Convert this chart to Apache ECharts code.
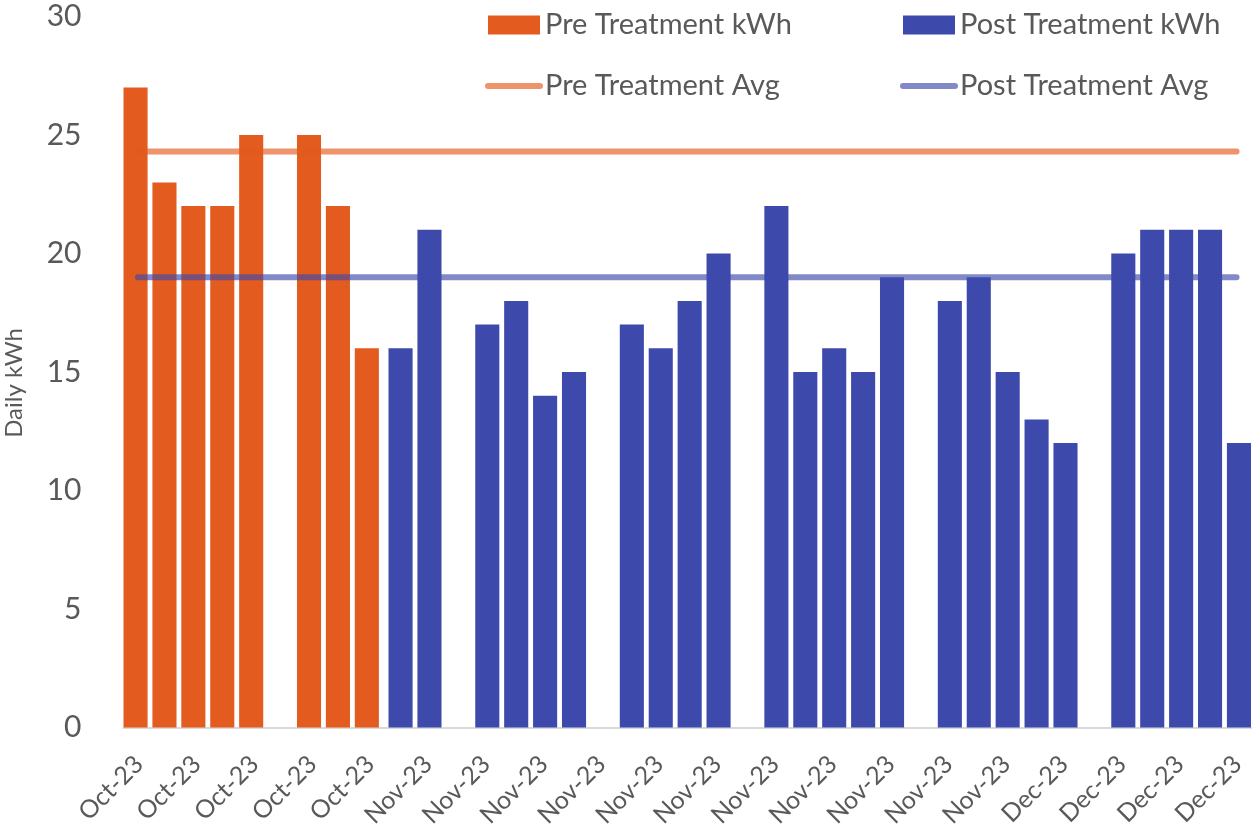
<!DOCTYPE html>
<html>
<head>
<meta charset="utf-8">
<script src="https://cdn.jsdelivr.net/npm/echarts@6/dist/echarts.min.js"></script>
<style>
  html, body { margin: 0; padding: 0; background: #fff; }
  #chart { width: 1255px; height: 836px; }
</style>
</head>
<body>
<div id="chart"></div>
<script>
// weekdays on the axis (weekends are not on the sheet)
const days = [
  "2023-10-18", "2023-10-19", "2023-10-20", "2023-10-23", "2023-10-24",
  "2023-10-25", "2023-10-26", "2023-10-27", "2023-10-30", "2023-10-31",
  "2023-11-01", "2023-11-02", "2023-11-03", "2023-11-06", "2023-11-07",
  "2023-11-08", "2023-11-09", "2023-11-10", "2023-11-13", "2023-11-14",
  "2023-11-15", "2023-11-16", "2023-11-17", "2023-11-20", "2023-11-21",
  "2023-11-22", "2023-11-23", "2023-11-24", "2023-11-27", "2023-11-28",
  "2023-11-29", "2023-11-30", "2023-12-01", "2023-12-04", "2023-12-05",
  "2023-12-06", "2023-12-07", "2023-12-08", "2023-12-11"
];

const preKwh = [
  27, 23, 22, 22, 25, null, 25, 22, 16, null,
  null, null, null, null, null, null, null, null, null, null,
  null, null, null, null, null, null, null, null, null, null,
  null, null, null, null, null, null, null, null, null
];

const postKwh = [
  null, null, null, null, null, null, null, null, null, 16,
  21, null, 17, 18, 14, 15, null, 17, 16, 18,
  20, null, 22, 15, 16, 15, 19, null, 18, 19,
  15, 13, 12, null, 20, 21, 21, 21, 12
];

const preAvg = 24.3;
const postAvg = 19.0;

const yTicks = [0, 5, 10, 15, 20, 25, 30];

const monthNames = ["Jan", "Feb", "Mar", "Apr", "May", "Jun", "Jul", "Aug", "Sep", "Oct", "Nov", "Dec"];

const fmtMonth = (d) => {
  const [y, m] = d.split("-");
  return monthNames[parseInt(m, 10) - 1] + "-" + y.slice(2);
};

const FONT = "Lato, 'Open Sans', sans-serif";
const TEXT = "#595959";
const ORANGE = "#E35B1F";
const BLUE = "#3E4AAB";
const ORANGE_AVG = "rgba(227,91,31,0.65)";
const BLUE_AVG = "rgba(62,74,171,0.65)";

const chart = echarts.init(document.getElementById("chart"), null, { renderer: "canvas" });

// shared legend look, one legend per column so the columns line up
const legendBase = {
  top: 10,
  padding: 0,
  orient: "vertical",
  itemWidth: 52,
  itemHeight: 19,
  itemGap: 31,
  textStyle: { fontFamily: FONT, fontSize: 29, lineHeight: 30, color: TEXT }
};

const option = {
  backgroundColor: "#fff",
  animation: false,
  textStyle: { fontFamily: FONT, color: TEXT },
  legend: [
    Object.assign({}, legendBase, {
      left: 485,
      data: [
        { name: "Pre Treatment kWh", icon: "rect" },
        { name: "Pre Treatment Avg", itemStyle: { opacity: 0 }, lineStyle: { width: 6, cap: "round" } }
      ]
    }),
    Object.assign({}, legendBase, {
      left: 900,
      data: [
        { name: "Post Treatment kWh", icon: "rect" },
        { name: "Post Treatment Avg", itemStyle: { opacity: 0 }, lineStyle: { width: 6, cap: "round" } }
      ]
    })
  ],
  grid: {
    left: 123.5,
    right: 4,
    top: 16.5,
    bottom: 108.5,
    containLabel: false,
    outerBoundsMode: "none"
  },
  xAxis: {
    type: "category",
    data: days,
    boundaryGap: true,
    axisLine: { lineStyle: { color: "#D9D9D9", width: 2 } },
    axisTick: { interval: 0, length: 10, lineStyle: { color: "#D9D9D9", width: 1.5 } },
    axisLabel: {
      interval: 1,
      rotate: 45,
      margin: 16,
      align: "right",
      verticalAlign: "top",
      // nudges the rotated text back toward the tick, like Excel does
      padding: [0, 11, 0, 0],
      fontFamily: FONT,
      fontSize: 25,
      color: TEXT,
      formatter: fmtMonth
    }
  },
  yAxis: {
    type: "value",
    min: yTicks[0],
    max: yTicks[yTicks.length - 1],
    interval: 5,
    name: "Daily kWh",
    nameLocation: "middle",
    nameRotate: 90,
    nameGap: 97,
    nameTextStyle: { fontFamily: FONT, fontSize: 24, color: TEXT, padding: [0, 22, 0, 0] },
    axisLine: { show: false },
    axisTick: { show: false },
    splitLine: { show: false },
    axisLabel: { margin: 42, fontFamily: FONT, fontSize: 30, color: TEXT }
  },
  series: [
    {
      name: "Pre Treatment kWh",
      type: "bar",
      data: preKwh,
      barCategoryGap: "0%",
      barGap: "-80%",
      itemStyle: { color: ORANGE }
    },
    {
      name: "Post Treatment kWh",
      type: "bar",
      data: postKwh,
      barCategoryGap: "0%",
      barGap: "-80%",
      itemStyle: { color: BLUE }
    },
    {
      name: "Pre Treatment Avg",
      type: "line",
      z: 5,
      symbol: "none",
      data: days.map(() => preAvg),
      itemStyle: { color: ORANGE_AVG },
      lineStyle: { color: ORANGE_AVG, width: 6, cap: "round" }
    },
    {
      name: "Post Treatment Avg",
      type: "line",
      z: 5,
      symbol: "none",
      data: days.map(() => postAvg),
      itemStyle: { color: BLUE_AVG },
      lineStyle: { color: BLUE_AVG, width: 6, cap: "round" }
    }
  ]
};

chart.setOption(option);
</script>
</body>
</html>
